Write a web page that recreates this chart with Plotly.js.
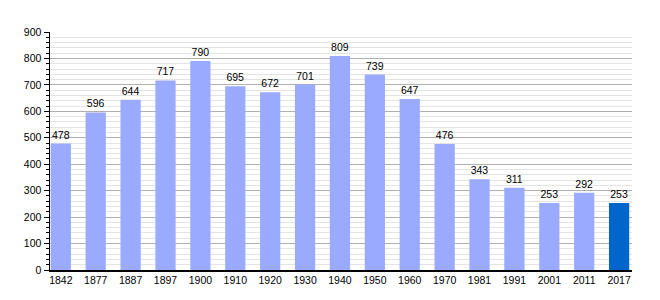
<!DOCTYPE html>
<html><head><meta charset="utf-8">
<script src="https://cdn.plot.ly/plotly-3.0.1.min.js"></script>
<style>body{margin:0;background:#fff}#c{width:660px;height:300px}</style>
</head><body><div id="c"></div>
<script>
var years = ["1842","1877","1887","1897","1900","1910","1920","1930","1940","1950","1960","1970","1981","1991","2001","2011","2017"];
var population = [478,596,644,717,790,695,672,701,809,739,647,476,343,311,253,292,253];
var colors = years.map(function(y,i){return i===years.length-1 ? "#0066cc" : "#99aaff";});
Plotly.newPlot("c",[{
  type:"bar", x:years, y:population,
  marker:{color:colors},
  text:population.map(String), textposition:"outside", cliponaxis:false,
  textfont:{family:"Liberation Sans, Arial, sans-serif", size:10.5, color:"#000"},
  hoverinfo:"x+y"
}],{
  width:660, height:300,
  margin:{l:50,r:28,t:32,b:30},
  paper_bgcolor:"#fff", plot_bgcolor:"#fff",
  bargap:0.42,
  font:{family:"Liberation Sans, Arial, sans-serif", size:10.5, color:"#000"},
  xaxis:{type:"category", range:[-0.31,16.37], showline:true, linecolor:"#000", linewidth:1.5,
    ticks:"", tickfont:{size:10.5}, showgrid:false, fixedrange:true},
  yaxis:{range:[0,900], dtick:100, showline:true, linecolor:"#000", linewidth:1.5,
    ticks:"outside", ticklen:5, tickcolor:"#000", tickfont:{size:10.5},
    showgrid:true, gridcolor:"#b0b0b0", gridwidth:1, zeroline:false,
    minor:{dtick:20, showgrid:true, gridcolor:"#e4e4e4", ticks:"outside", ticklen:3, tickcolor:"#000"}},
  showlegend:false
},{staticPlot:true});
</script></body></html>
